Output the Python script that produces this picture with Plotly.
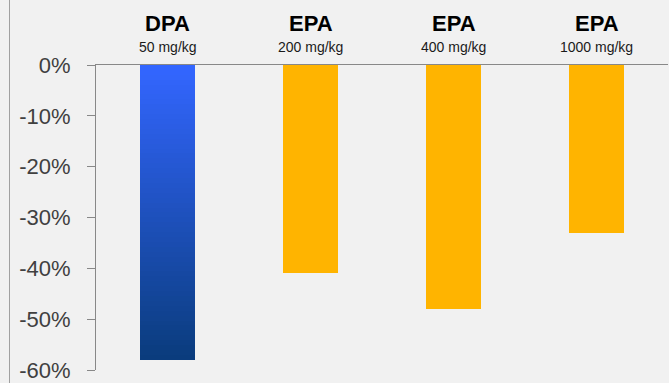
import plotly.graph_objects as go

# Data
groups = ["DPA", "EPA", "EPA", "EPA"]
doses = ["50 mg/kg", "200 mg/kg", "400 mg/kg", "1000 mg/kg"]
change_pct = [-58, -41, -48, -33]
ytick_vals = [0, -10, -20, -30, -40, -50, -60]
ytick_text = ["0%", "-10%", "-20%", "-30%", "-40%", "-50%", "-60%"]

cats = [f"{g} {d}" for g, d in zip(groups, doses)]
BAR_W = 0.39
ORANGE = "#ffb400"
TOP_BLUE = (51, 102, 255)
BOTTOM_BLUE = (10, 60, 125)

fig = go.Figure()

# DPA bar: drawn as thin stacked slices to get a vertical blue gradient
n_slices = 60
v = change_pct[0]
step = v / n_slices
cols = []
for i in range(n_slices):
    t = i / (n_slices - 1)
    c = tuple(round(a + (b - a) * t) for a, b in zip(TOP_BLUE, BOTTOM_BLUE))
    cols.append("rgb(%d,%d,%d)" % c)
fig.add_trace(go.Bar(
    x=[cats[0]] * n_slices,
    y=[step] * n_slices,
    base=[i * step for i in range(n_slices)],
    width=BAR_W,
    marker=dict(color=cols, line=dict(width=0)),
    hoverinfo="skip",
    showlegend=False,
))

# EPA bars
fig.add_trace(go.Bar(
    x=cats[1:],
    y=change_pct[1:],
    width=BAR_W,
    marker=dict(color=ORANGE, line=dict(width=0)),
    showlegend=False,
))

# Two-line headers above each bar
for c, g, d in zip(cats, groups, doses):
    fig.add_annotation(x=c, y=1, xref="x", yref="paper", yanchor="middle",
                       yshift=42, text=f"<b>{g}</b>", showarrow=False,
                       font=dict(family="Liberation Sans, Arial", size=22, color="#000000"))
    fig.add_annotation(x=c, y=1, xref="x", yref="paper", yanchor="middle",
                       yshift=18, text=d, showarrow=False,
                       font=dict(family="Liberation Sans, Arial", size=14, color="#1a1a1a"))

# Thin frame line at the left edge
fig.add_shape(type="line", xref="paper", yref="paper",
              x0=(9.5 - 96) / 572, x1=(9.5 - 96) / 572, y0=-0.1, y1=1.3,
              line=dict(color="#a0a0a0", width=1))

fig.update_layout(
    width=669, height=383,
    margin=dict(l=96, r=1, t=65, b=13),
    paper_bgcolor="#f1f1f1",
    plot_bgcolor="#f1f1f1",
    barmode="overlay",
    bargap=0,
    xaxis=dict(
        type="category", categoryorder="array", categoryarray=cats,
        side="top", showline=True, linecolor="#888888", linewidth=1,
        showticklabels=False, ticks="", showgrid=False, zeroline=False,
        range=[-0.5, 3.5],
    ),
    yaxis=dict(
        range=[-60, 0], tickvals=ytick_vals, ticktext=ytick_text,
        showline=True, linecolor="#888888", linewidth=1,
        ticks="outside", ticklen=8, tickcolor="#888888",
        ticklabelstandoff=12,
        showgrid=False, zeroline=False,
        tickfont=dict(family="Liberation Sans, Arial", size=22, color="#404040"),
    ),
)

fig.write_html("out.html")
